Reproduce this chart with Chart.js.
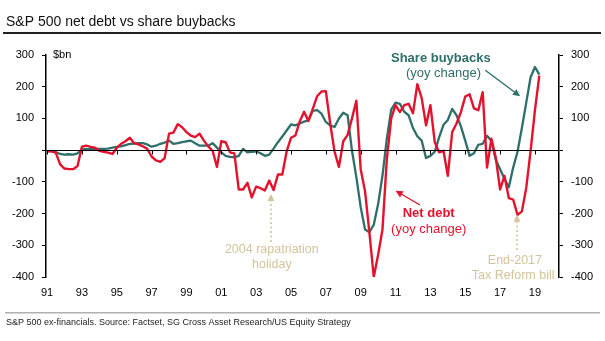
<!DOCTYPE html>
<html>
<head>
<meta charset="utf-8">
<script src="https://cdn.jsdelivr.net/npm/chart.js@4.4.1/dist/chart.umd.min.js"></script>
<style>
  body { margin: 0; background: #fff; }
  #wrap { position: relative; width: 605px; height: 341px; }
</style>
</head>
<body>
<div id="wrap"><canvas id="debtChart"></canvas></div>
<script>
// Quarterly series, $bn yoy change, first point = 1991 Q1
const startYear = 1991;

const netDebt = [
  -4, -4, -8, -45,
  -58, -60, -60, -50,
  11, 14, 10, 8,
  -2, -5, -8, -12,
  7, 20, 28, 39,
  22, 18, 12, 4,
  -20, -32, -37, -25,
  52, 55, 82, 72,
  57, 46, 41, 52,
  30, 12, -2, -53,
  28, 25, -7, -10,
  -124, -124, -103, -149,
  -115, -120, -127, -96,
  -126, -77, -77, -4,
  39, 46, 90, 121,
  92, 130, 170, 185,
  186, 84, -5, -53,
  28, 48, 100, 156,
  -60, -130, -260, -400,
  -330, -250, -28, 100,
  142, 120, 142, 146,
  116, 208, 164, 78,
  142, 25, -7, -2,
  -81, 57, 84, 120,
  169, 176, 132, 126,
  183, -55, 36, -23,
  -124, -81, -151, -156,
  -204, -193, -119, -2,
  126, 235
];

const buybacks = [
  -3, -3, -6, -12,
  -14, -13, -14, -10,
  2, 3, 3, 4,
  4, 4, 5, 8,
  10, 12, 16, 20,
  21, 22, 22, 18,
  11, 14, 20, 24,
  30, 20, 22, 25,
  28, 30, 22, 14,
  14, 14, 22, 8,
  -7, -18, -21, -23,
  -18, 4, -7, -5,
  -4, -10, -18, -14,
  5, 25, 43, 62,
  81, 78, 84, 90,
  94, 124, 126, 115,
  89, 78, 73, 100,
  118, 110, -2, -85,
  -180, -250, -259, -235,
  -170, -80, 36, 128,
  150, 146, 121, 110,
  70, 44, 30, -25,
  -18, -5, 40, 80,
  95, 130, 110, 75,
  30, -18, -10, 17,
  20, 45, 30, -30,
  -60, -90, -117, -55,
  -5, 70, 150, 230,
  262, 238
];

const yearTicks = [1991, 1993, 1995, 1997, 1999, 2001, 2003, 2005, 2007, 2009, 2011, 2013, 2015, 2017, 2019];
const valueTicks = [-400, -300, -200, -100, 0, 100, 200, 300];

const quarters = netDebt.map((_, i) => startYear + i / 4);

const RED = '#e3132e';
const TEAL = '#2e6f69';
const TAN = '#d4c49c';
const FONT = '"Liberation Sans", Arial, sans-serif';

function toPoints(values) {
  return values.map((v, i) => ({ x: quarters[i], y: v }));
}

function arrowHead(ctx, x1, y1, x2, y2, size, color) {
  const a = Math.atan2(y2 - y1, x2 - x1);
  ctx.fillStyle = color;
  ctx.beginPath();
  ctx.moveTo(x2, y2);
  ctx.lineTo(x2 - size * Math.cos(a - 0.45), y2 - size * Math.sin(a - 0.45));
  ctx.lineTo(x2 - size * Math.cos(a + 0.45), y2 - size * Math.sin(a + 0.45));
  ctx.closePath();
  ctx.fill();
}

function arrow(ctx, x1, y1, x2, y2, color, dotted) {
  ctx.save();
  ctx.strokeStyle = color;
  ctx.lineWidth = dotted ? 1.6 : 1.4;
  if (dotted) ctx.setLineDash([2, 2.5]);
  const a = Math.atan2(y2 - y1, x2 - x1);
  ctx.beginPath();
  ctx.moveTo(x1, y1);
  ctx.lineTo(x2 - 5 * Math.cos(a), y2 - 5 * Math.sin(a));
  ctx.stroke();
  ctx.setLineDash([]);
  arrowHead(ctx, x1, y1, x2, y2, 8, color);
  ctx.restore();
}

// title, footer, zero line and the notes on the chart
const decorations = {
  id: 'decorations',
  beforeDraw(chart) {
    const ctx = chart.ctx;
    ctx.save();
    ctx.fillStyle = '#fff';
    ctx.fillRect(0, 0, chart.width, chart.height);
    ctx.fillStyle = '#111';
    ctx.font = '14px ' + FONT;
    ctx.textBaseline = 'alphabetic';
    ctx.fillText('S&P 500 net debt vs share buybacks', 6, 26);
    ctx.fillStyle = '#222';
    ctx.fillRect(3, 32, 598, 2);

    ctx.fillStyle = '#b0b0b0';
    ctx.fillRect(5, 312, 595, 1.5);
    ctx.fillStyle = '#222';
    ctx.font = '9px ' + FONT;
    ctx.fillText('S&P 500 ex-financials. Source: Factset, SG Cross Asset Research/US Equity Strategy', 6, 325);
    ctx.restore();
  },
  afterDatasetsDraw(chart) {
    const ctx = chart.ctx;
    const xs = chart.scales.x, ys = chart.scales.y;
    const area = chart.chartArea;
    const px = t => xs.getPixelForValue(t);
    const py = v => ys.getPixelForValue(v);
    ctx.save();

    // zero line with year ticks
    const y0 = Math.round(py(0)) + 0.5;
    ctx.strokeStyle = '#000';
    ctx.lineWidth = 1;
    ctx.beginPath();
    ctx.moveTo(area.left, y0);
    ctx.lineTo(area.right, y0);
    yearTicks.forEach(t => {
      const x = Math.round(px(t)) + 0.5;
      ctx.moveTo(x, y0);
      ctx.lineTo(x, y0 + 4);
    });
    ctx.stroke();

    // unit label
    ctx.fillStyle = '#000';
    ctx.font = '11px ' + FONT;
    ctx.textAlign = 'left';
    ctx.textBaseline = 'middle';
    ctx.fillText('$bn', area.left + 7, area.top);

    ctx.textAlign = 'center';

    // share buybacks note
    ctx.fillStyle = TEAL;
    ctx.font = 'bold 13px ' + FONT;
    ctx.fillText('Share buybacks', px(2013.6), py(290));
    ctx.font = '13px ' + FONT;
    ctx.fillText('(yoy change)', px(2013.75), py(243));
    arrow(ctx, px(2016.15), py(252), px(2018.15), py(170), TEAL, false);

    // net debt note
    ctx.fillStyle = RED;
    ctx.font = 'bold 13px ' + FONT;
    ctx.fillText('Net debt', px(2012.9), py(-199));
    ctx.font = '13px ' + FONT;
    ctx.fillText('(yoy change)', px(2012.9), py(-250));
    arrow(ctx, px(2012.4), py(-173), px(2011.0), py(-128), RED, false);

    // tan event notes
    ctx.fillStyle = TAN;
    ctx.font = '12.5px ' + FONT;
    ctx.fillText('2004 rapatriation', px(2003.9), py(-315));
    ctx.fillText('holiday', px(2003.9), py(-360));
    arrow(ctx, px(2003.85), py(-290), px(2003.85), py(-138), TAN, true);

    ctx.fillStyle = TAN;
    ctx.fillText('End-2017', px(2017.85), py(-347));
    ctx.fillText('Tax Reform bill', px(2017.75), py(-395));
    arrow(ctx, px(2017.97), py(-315), px(2017.97), py(-203), TAN, true);

    ctx.restore();
  }
};

const tickFont = { family: FONT, size: 11 };

function valueAxis(position) {
  return {
    position: position,
    min: -400,
    max: 300,
    afterBuildTicks: s => { s.ticks = valueTicks.map(v => ({ value: v })); },
    afterFit: s => { s.width = 46; },
    grid: { drawOnChartArea: false, tickLength: 4, color: '#000', lineWidth: 1 },
    border: { color: '#000', width: 1.5 },
    ticks: {
      padding: 8,
      color: '#000',
      font: tickFont,
      callback: v => (v === 0 ? '' : v)
    }
  };
}

new Chart(document.getElementById('debtChart').getContext('2d'), {
  type: 'line',
  data: {
    datasets: [
      {
        label: 'Net debt (yoy change)',
        data: toPoints(netDebt),
        borderColor: RED,
        borderWidth: 2.4,
        pointRadius: 0,
        tension: 0,
        borderJoinStyle: 'round',
        fill: false
      },
      {
        label: 'Share buybacks (yoy change)',
        data: toPoints(buybacks),
        borderColor: TEAL,
        borderWidth: 2.3,
        pointRadius: 0,
        tension: 0,
        borderJoinStyle: 'round',
        fill: false
      }
    ]
  },
  options: {
    responsive: true,
    maintainAspectRatio: false,
    animation: false,
    layout: { padding: { top: 55, bottom: 0, left: 0, right: 0 } },
    plugins: {
      legend: { display: false },
      tooltip: { enabled: false }
    },
    scales: {
      x: {
        type: 'linear',
        min: 1990.94,
        max: 2020.38,
        afterBuildTicks: s => { s.ticks = yearTicks.map(v => ({ value: v })); },
        afterFit: s => { s.height = 64; },
        grid: { display: false, drawTicks: false },
        border: { display: false },
        ticks: {
          padding: 9,
          maxRotation: 0,
          autoSkip: false,
          color: '#000',
          font: tickFont,
          callback: v => String(v).slice(2)
        }
      },
      y: valueAxis('left'),
      y2: valueAxis('right')
    }
  },
  plugins: [decorations]
});
</script>
</body>
</html>
